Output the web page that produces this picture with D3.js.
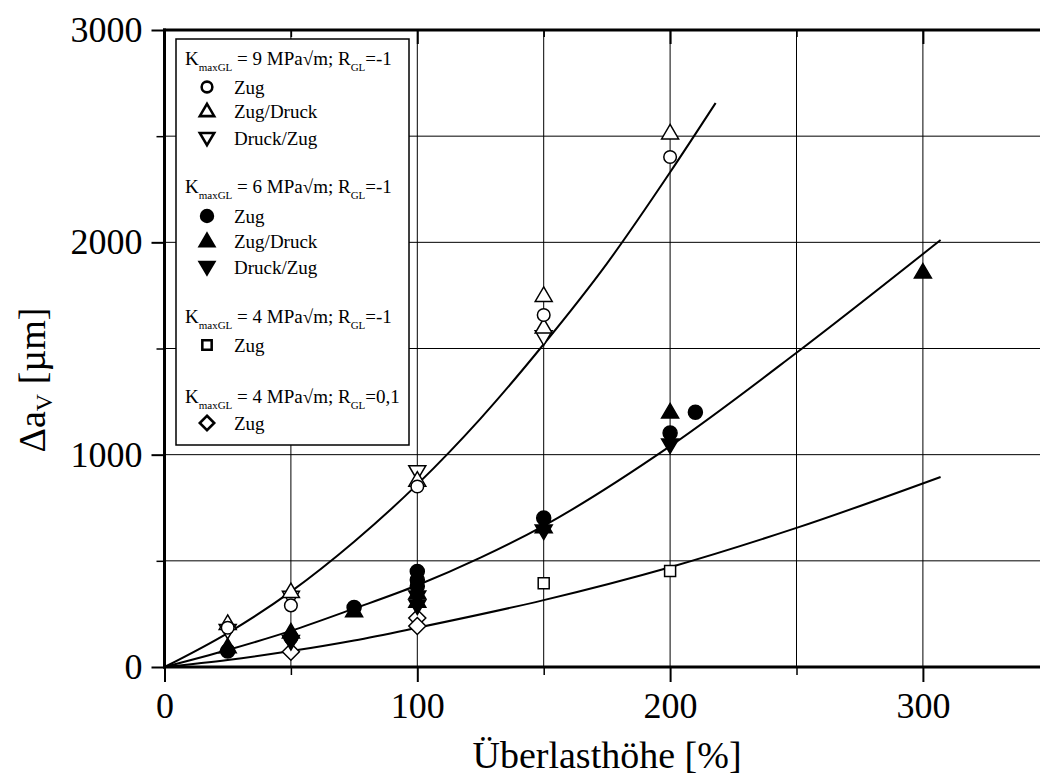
<!DOCTYPE html>
<html>
<head>
<meta charset="utf-8">
<script src="https://cdn.jsdelivr.net/npm/d3@7"></script>
<style>
  html, body { margin: 0; padding: 0; background: #fff; }
  svg { display: block; }
  svg text { font-family: "Liberation Serif", "Times New Roman", serif; }
</style>
</head>
<body>
<svg id="chart" width="1040" height="778"></svg>
<script>
// Axis ticks
const xMajorTicks = [0, 100, 200, 300];
const xMinorTicks = [50, 150, 250];
const yMajorTicks = [0, 1000, 2000, 3000];
const yMinorTicks = [500, 1500, 2500];
const xGridValues = [50, 100, 150, 200, 250, 300, 350];
const yGridValues = [500, 1000, 1500, 2000, 2500];

// Measured crack delay Δa_V [µm] against overload ratio [%]
// KmaxGL = 9 MPa√m, RGL = -1 (open markers)
const k9Zug       = [[25, 185], [50, 290], [100, 850], [150, 1658], [200, 2402]];
const k9ZugDruck  = [[25, 205], [50, 355], [100, 880], [150, 1750], [150, 1601], [200, 2515]];
const k9DruckZug  = [[25, 172], [50, 328], [100, 920], [150, 1555]];
// KmaxGL = 6 MPa√m, RGL = -1 (filled markers)
const k6Zug       = [[25, 75], [50, 140], [75, 280], [100, 450], [100, 410], [100, 380], [150, 702], [200, 1102], [210, 1200]];
const k6ZugDruck  = [[25, 95], [50, 165], [75, 265], [100, 350], [100, 310], [150, 660], [200, 1201], [300, 1860]];
const k6DruckZug  = [[50, 120], [100, 330], [100, 287], [150, 640], [200, 1046]];
// KmaxGL = 4 MPa√m
const k4Zug       = [[150, 395], [200, 452]];          // RGL = -1
const k4R01Zug    = [[50, 72], [100, 231], [100, 193]]; // RGL = 0,1

// Fitted trend curves
const fitK9 = [[0, 0], [25, 160], [50, 355], [75, 590], [100, 860], [125, 1170], [150, 1520], [175, 1900], [200, 2330], [218, 2656]];
const fitK6 = [[0, 0], [25, 80], [50, 170], [75, 275], [100, 385], [125, 515], [150, 665], [200, 1040], [250, 1480], [307, 2011]];
const fitK4 = [[0, 0], [25, 33], [50, 75], [75, 125], [100, 185], [150, 315], [200, 470], [250, 655], [307, 895]];

// Legend entries
const legendGroups = [
  { k: "9", r: "-1", items: [["circleOpen", "Zug"], ["triUpOpen", "Zug/Druck"], ["triDownOpen", "Druck/Zug"]] },
  { k: "6", r: "-1", items: [["circleFilled", "Zug"], ["triUpFilled", "Zug/Druck"], ["triDownFilled", "Druck/Zug"]] },
  { k: "4", r: "-1", items: [["squareOpen", "Zug"]] },
  { k: "4", r: "0,1", items: [["diamondOpen", "Zug"]] }
];

const FONT = "Liberation Serif, Times New Roman, serif";
const svg = d3.select("#chart");
const plotTop = 30, plotBottom = 667, plotLeft = 164.5, plotRight = 1049.3;

const x = d3.scaleLinear().domain([0, 350]).range([plotLeft, plotRight]);
const y = d3.scaleLinear().domain([0, 3000]).range([plotBottom, plotTop]);

// Marker outlines
const shapes = {
  circle: d3.symbol().type(d3.symbolCircle).size(Math.PI * 6.3 * 6.3)(),
  circleFilled: d3.symbol().type(d3.symbolCircle).size(Math.PI * 7 * 7)(),
  triUp: "M0,-8.5L8.5,6L-8.5,6Z",
  triDown: "M0,8.5L8.5,-6L-8.5,-6Z",
  square: "M-5.5,-5.5H5.5V5.5H-5.5Z",
  diamond: "M0,-8.5L8.5,0L0,8.5L-8.5,0Z"
};
const markerStyles = {
  circleOpen:    { d: shapes.circle, fill: "#fff" },
  triUpOpen:     { d: shapes.triUp, fill: "#fff" },
  triDownOpen:   { d: shapes.triDown, fill: "#fff" },
  circleFilled:  { d: shapes.circleFilled, fill: "#000" },
  triUpFilled:   { d: shapes.triUp, fill: "#000" },
  triDownFilled: { d: shapes.triDown, fill: "#000" },
  squareOpen:    { d: shapes.square, fill: "#fff" },
  diamondOpen:   { d: shapes.diamond, fill: "#fff" }
};

// Grid
const grid = svg.append("g").attr("stroke", "#000").attr("stroke-width", 1);
grid.selectAll("line.v").data(xGridValues).join("line").attr("class", "v")
  .attr("x1", d => x(d)).attr("x2", d => x(d)).attr("y1", plotTop).attr("y2", plotBottom);
grid.selectAll("line.h").data(yGridValues).join("line").attr("class", "h")
  .attr("x1", plotLeft).attr("x2", plotRight).attr("y1", d => y(d)).attr("y2", d => y(d));

// Trend curves
const line = d3.line().x(d => x(d[0])).y(d => y(d[1])).curve(d3.curveMonotoneX);
svg.append("g").attr("fill", "none").attr("stroke", "#000").attr("stroke-width", 2)
  .selectAll("path").data([fitK9, fitK6, fitK4]).join("path").attr("d", line);

// Data markers
const series = [
  [k4R01Zug, "diamondOpen"], [k4Zug, "squareOpen"],
  [k6DruckZug, "triDownFilled"], [k6ZugDruck, "triUpFilled"], [k6Zug, "circleFilled"],
  [k9DruckZug, "triDownOpen"], [k9ZugDruck, "triUpOpen"], [k9Zug, "circleOpen"]
];
series.forEach(([data, type]) => {
  const st = markerStyles[type];
  svg.append("g").selectAll("path").data(data).join("path")
    .attr("transform", d => `translate(${x(d[0])},${y(d[1])})`)
    .attr("d", st.d).attr("fill", st.fill)
    .attr("stroke", "#000").attr("stroke-width", 1.5);
});

// Axes
function styleAxis(g, width) {
  g.select(".domain").remove();
  g.selectAll(".tick line").attr("stroke", "#000").attr("stroke-width", width);
  g.selectAll(".tick text").attr("fill", "#000").attr("font-size", 36).attr("font-family", FONT);
}
svg.append("g").attr("transform", `translate(0,${plotBottom})`)
  .call(d3.axisBottom(x).tickValues(xMajorTicks).tickSize(15).tickPadding(10).tickFormat(d3.format("d")))
  .call(g => styleAxis(g, 2));
svg.append("g").attr("transform", `translate(0,${plotBottom})`)
  .call(d3.axisBottom(x).tickValues(xMinorTicks).tickSize(8).tickFormat(""))
  .call(g => styleAxis(g, 1.5));
svg.append("g").attr("transform", `translate(0,${plotTop})`)
  .call(d3.axisTop(x).tickValues(xMajorTicks).tickSize(-14).tickFormat(""))
  .call(g => styleAxis(g, 2));
svg.append("g").attr("transform", `translate(0,${plotTop})`)
  .call(d3.axisTop(x).tickValues(xMinorTicks).tickSize(-7).tickFormat(""))
  .call(g => styleAxis(g, 1.5));
svg.append("g").attr("transform", `translate(${plotLeft},0)`)
  .call(d3.axisLeft(y).tickValues(yMajorTicks).tickSize(13).tickPadding(9).tickFormat(d3.format("d")))
  .call(g => styleAxis(g, 2));
svg.append("g").attr("transform", `translate(${plotLeft},0)`)
  .call(d3.axisLeft(y).tickValues(yMinorTicks).tickSize(8).tickFormat(""))
  .call(g => styleAxis(g, 1.5));

// Frame
const frame = svg.append("g").attr("stroke", "#000").attr("stroke-width", 3);
frame.append("line").attr("x1", plotLeft).attr("x2", plotLeft).attr("y1", plotTop - 1.5).attr("y2", plotBottom + 1.5);
frame.append("line").attr("x1", plotLeft - 1.5).attr("x2", plotRight).attr("y1", plotBottom).attr("y2", plotBottom);
frame.append("line").attr("x1", plotLeft - 1.5).attr("x2", plotRight).attr("y1", plotTop).attr("y2", plotTop);

// Axis titles
svg.append("text").attr("x", 607).attr("y", 768).attr("text-anchor", "middle")
  .attr("font-family", FONT).attr("font-size", 38).text("Überlasthöhe [%]");
const yTitle = svg.append("text").attr("transform", "translate(45,380) rotate(-90)")
  .attr("text-anchor", "middle").attr("font-family", FONT).attr("font-size", 38);
yTitle.append("tspan").text("Δa");
yTitle.append("tspan").attr("font-size", 24).attr("dy", 7).text("V");
yTitle.append("tspan").attr("dy", -7).text(" [µm]");

// Legend
const lg = svg.append("g");
lg.append("rect").attr("x", 176).attr("y", 39).attr("width", 233).attr("height", 406)
  .attr("fill", "#fff").attr("stroke", "#000").attr("stroke-width", 1.5);
const headerBaselines = [65, 193, 323, 403];
const rowCenters = [[87, 111, 138], [216, 241, 267], [345], [423]];
legendGroups.forEach((grp, gi) => {
  const t = lg.append("text").attr("x", 185).attr("y", headerBaselines[gi])
    .attr("font-family", FONT).attr("font-size", 19);
  t.append("tspan").text("K");
  t.append("tspan").attr("font-size", 11).attr("dy", 6).text("maxGL");
  t.append("tspan").attr("dy", -6).text(` = ${grp.k} MPa√m; R`);
  t.append("tspan").attr("font-size", 11).attr("dy", 6).text("GL");
  t.append("tspan").attr("dy", -6).text(`=${grp.r}`);
  grp.items.forEach(([type, label], i) => {
    const cy = rowCenters[gi][i];
    const st = markerStyles[type];
    lg.append("path").attr("transform", `translate(207,${cy}) scale(0.85)`)
      .attr("d", st.d).attr("fill", st.fill).attr("stroke", "#000").attr("stroke-width", 3);
    lg.append("text").attr("x", 234).attr("y", cy + 6.5)
      .attr("font-family", FONT).attr("font-size", 19).text(label);
  });
});
</script>
</body>
</html>
